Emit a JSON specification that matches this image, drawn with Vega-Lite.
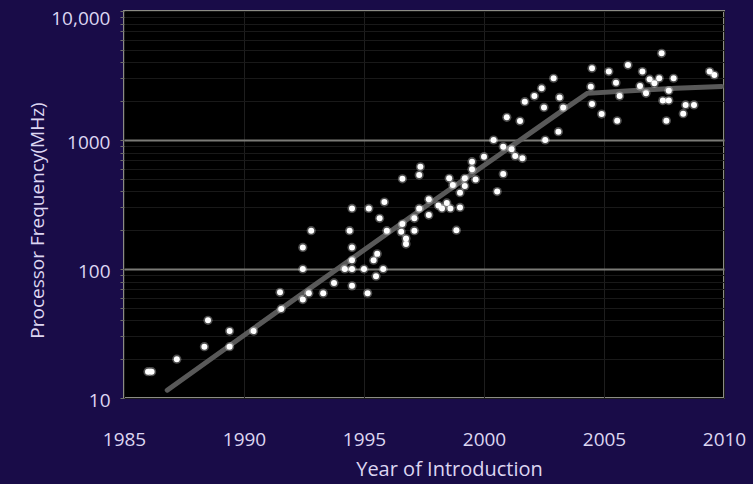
{
  "$schema": "https://vega.github.io/schema/vega-lite/v6.json",
  "width": 600,
  "height": 387,
  "autosize": {"type": "none"},
  "padding": {"left": 124, "top": 11, "right": 29, "bottom": 86},
  "background": "#190c48",
  "view": {"fill": "#000000", "stroke": "#8c8c84", "strokeWidth": 2},
  "config": {"font": "Open Sans"},
  "datasets": {
    "cpus": [
      {"year": 1986.0, "mhz": 16}, {"year": 1986.15, "mhz": 16}, {"year": 1987.2, "mhz": 20},
      {"year": 1988.35, "mhz": 25}, {"year": 1988.5, "mhz": 40}, {"year": 1989.4, "mhz": 33},
      {"year": 1989.4, "mhz": 25}, {"year": 1990.4, "mhz": 33}, {"year": 1991.5, "mhz": 66},
      {"year": 1991.55, "mhz": 49}, {"year": 1992.45, "mhz": 58}, {"year": 1992.45, "mhz": 100},
      {"year": 1992.45, "mhz": 147}, {"year": 1992.8, "mhz": 198}, {"year": 1992.7, "mhz": 65},
      {"year": 1993.3, "mhz": 65}, {"year": 1993.75, "mhz": 78}, {"year": 1994.2, "mhz": 100},
      {"year": 1994.5, "mhz": 100}, {"year": 1994.5, "mhz": 74}, {"year": 1994.5, "mhz": 117},
      {"year": 1994.5, "mhz": 147}, {"year": 1994.4, "mhz": 198}, {"year": 1994.5, "mhz": 295},
      {"year": 1995.0, "mhz": 100}, {"year": 1995.15, "mhz": 65}, {"year": 1995.2, "mhz": 295},
      {"year": 1995.4, "mhz": 117}, {"year": 1995.5, "mhz": 88}, {"year": 1995.55, "mhz": 131},
      {"year": 1995.65, "mhz": 247}, {"year": 1995.8, "mhz": 100}, {"year": 1995.85, "mhz": 330},
      {"year": 1995.95, "mhz": 198}, {"year": 1996.55, "mhz": 194}, {"year": 1996.75, "mhz": 172},
      {"year": 1996.6, "mhz": 223}, {"year": 1996.75, "mhz": 156}, {"year": 1996.6, "mhz": 500},
      {"year": 1997.1, "mhz": 247}, {"year": 1997.1, "mhz": 198}, {"year": 1997.3, "mhz": 295},
      {"year": 1997.3, "mhz": 535}, {"year": 1997.35, "mhz": 620}, {"year": 1997.7, "mhz": 347},
      {"year": 1997.7, "mhz": 262}, {"year": 1998.1, "mhz": 310}, {"year": 1998.25, "mhz": 295},
      {"year": 1998.45, "mhz": 325}, {"year": 1998.6, "mhz": 295}, {"year": 1999.0, "mhz": 300},
      {"year": 1999.0, "mhz": 390}, {"year": 1998.7, "mhz": 448}, {"year": 1999.2, "mhz": 440},
      {"year": 1998.55, "mhz": 505}, {"year": 1999.2, "mhz": 505}, {"year": 1999.65, "mhz": 495},
      {"year": 1999.5, "mhz": 593}, {"year": 1999.5, "mhz": 679}, {"year": 2000.0, "mhz": 743},
      {"year": 1998.85, "mhz": 200}, {"year": 2000.4, "mhz": 1000}, {"year": 2000.55, "mhz": 398},
      {"year": 2000.8, "mhz": 545}, {"year": 2000.8, "mhz": 888}, {"year": 2001.15, "mhz": 847},
      {"year": 2001.3, "mhz": 752}, {"year": 2001.6, "mhz": 721}, {"year": 2000.95, "mhz": 1500},
      {"year": 2001.5, "mhz": 1404}, {"year": 2001.7, "mhz": 1980}, {"year": 2002.1, "mhz": 2190},
      {"year": 2002.4, "mhz": 2520}, {"year": 2002.9, "mhz": 3010}, {"year": 2002.5, "mhz": 1790},
      {"year": 2002.55, "mhz": 1000}, {"year": 2003.1, "mhz": 1160}, {"year": 2003.15, "mhz": 2140},
      {"year": 2003.3, "mhz": 1790}, {"year": 2004.45, "mhz": 2590}, {"year": 2004.5, "mhz": 1900},
      {"year": 2004.5, "mhz": 3600}, {"year": 2004.9, "mhz": 1590}, {"year": 2005.2, "mhz": 3390},
      {"year": 2005.5, "mhz": 2780}, {"year": 2005.55, "mhz": 1410}, {"year": 2005.65, "mhz": 2190},
      {"year": 2006.0, "mhz": 3810}, {"year": 2006.5, "mhz": 2620}, {"year": 2006.6, "mhz": 3390},
      {"year": 2006.75, "mhz": 2300}, {"year": 2006.9, "mhz": 2960}, {"year": 2007.1, "mhz": 2750},
      {"year": 2007.3, "mhz": 3010}, {"year": 2007.4, "mhz": 4700}, {"year": 2007.45, "mhz": 2020},
      {"year": 2007.6, "mhz": 1410}, {"year": 2007.7, "mhz": 2020}, {"year": 2007.7, "mhz": 2410},
      {"year": 2007.9, "mhz": 3010}, {"year": 2008.3, "mhz": 1600}, {"year": 2008.4, "mhz": 1870},
      {"year": 2008.75, "mhz": 1870}, {"year": 2009.4, "mhz": 3390}, {"year": 2009.6, "mhz": 3190}
    ],
    "trend": [
      {"year": 1986.8, "mhz": 11.5}, {"year": 1992.2, "mhz": 60}, {"year": 1997.75, "mhz": 323},
      {"year": 2003.2, "mhz": 1660}, {"year": 2004.3, "mhz": 2300}, {"year": 2006.1, "mhz": 2410},
      {"year": 2008.0, "mhz": 2520}, {"year": 2009.9, "mhz": 2600}
    ]
  },
  "encoding": {
    "x": {
      "field": "year", "type": "quantitative",
      "scale": {"domain": [1985, 2010], "nice": false, "zero": false},
      "axis": {
        "values": [1985, 1990, 1995, 2000, 2005, 2010],
        "format": "d",
        "domain": false, "ticks": false,
        "grid": true, "gridColor": "#1e1e1e", "gridWidth": 1,
        "labelFont": "Open Sans", "labelFontSize": 19, "labelColor": "#ddd6f2",
        "labelBaseline": "middle", "labelPadding": 41,
        "labelFlush": false,
        "title": "Year of Introduction",
        "titleFont": "Open Sans", "titleFontSize": 20, "titleFontWeight": "normal",
        "titleColor": "#ddd6f2", "titleX": 325, "titleY": 77,
        "titleAlign": "center", "titleBaseline": "alphabetic"
      }
    },
    "y": {
      "field": "mhz", "type": "quantitative",
      "scale": {"type": "log", "domain": [10, 10000], "nice": false},
      "axis": {
        "values": [10, 20, 30, 40, 50, 60, 70, 80, 90, 100, 200, 300, 400, 500, 600, 700, 800, 900, 1000, 2000, 3000, 4000, 5000, 6000, 7000, 8000, 9000, 10000],
        "labelExpr": "datum.value == 10000 ? '10,000' : datum.value == 1000 ? '1000' : datum.value == 100 ? '100' : datum.value == 10 ? '10' : ''",
        "domain": false,
        "ticks": true, "tickSize": 4, "tickColor": "#6e6e6a", "tickWidth": 1,
        "grid": true,
        "gridColor": {"condition": {"test": "datum.value == 100 || datum.value == 1000", "value": "#7a7a76"}, "value": "#191919"},
        "gridWidth": {"condition": {"test": "datum.value == 100 || datum.value == 1000", "value": 2}, "value": 1},
        "labelOffset": {"condition": {"test": "datum.value == 10000", "value": 7}, "value": 2},
        "labelFont": "Open Sans", "labelFontSize": 19, "labelColor": "#ddd6f2",
        "labelPadding": 10, "labelFlush": false, "labelOverlap": false, "labelBound": false,
        "title": "Processor Frequency(MHz)",
        "titleFont": "Open Sans", "titleFontSize": 19, "titleFontWeight": "normal",
        "titleColor": "#ddd6f2", "titleAngle": -90, "titleX": -87, "titleY": 209,
        "titleAlign": "center", "titleBaseline": "middle"
      }
    }
  },
  "layer": [
    {
      "data": {"name": "trend"},
      "mark": {"type": "line", "color": "#5e5e5e", "strokeWidth": 5, "strokeCap": "round", "opacity": 0.95}
    },
    {
      "data": {"name": "cpus"},
      "mark": {"type": "circle", "color": "#ffffff", "size": 85, "opacity": 0.3}
    },
    {
      "data": {"name": "cpus"},
      "mark": {"type": "circle", "color": "#ffffff", "size": 36, "opacity": 1}
    }
  ]
}
